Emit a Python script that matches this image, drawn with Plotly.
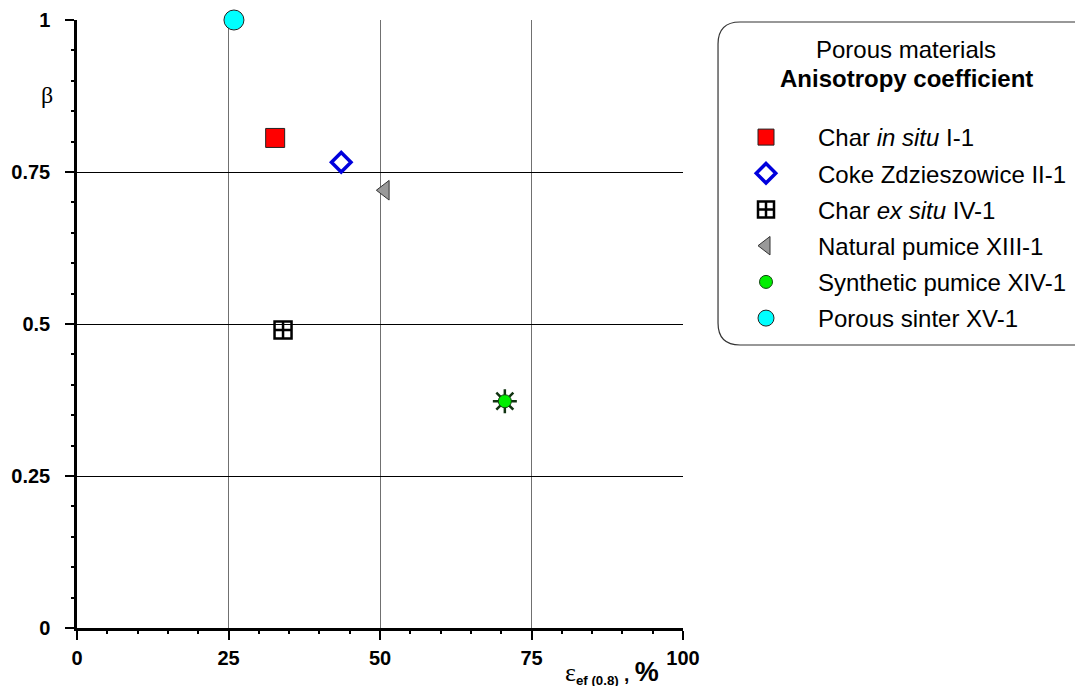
import plotly.graph_objects as go
import re

names = ["Char <i>in situ</i> I-1", "Coke Zdzieszowice II-1", "Char <i>ex situ</i> IV-1",
         "Natural pumice XIII-1", "Synthetic pumice XIV-1", "Porous sinter XV-1"]
eps = [32.7, 43.6, 34.0, 50.8, 70.6, 25.9]
beta = [0.806, 0.766, 0.490, 0.720, 0.373, 1.0]

x_ticks = [0, 25, 50, 75, 100]
y_ticks = [0, 0.25, 0.5, 0.75, 1]
y_tick_labels = ["0", "0.25", "0.5", "0.75", "1"]

styles = [
    dict(symbol="square", size=19, color="#ff0000", line=dict(color="#222222", width=1)),
    dict(symbol="diamond", size=15, color="white", line=dict(color="#0000dd", width=3.5)),
    dict(symbol="square-cross-open", size=17, color="black", line=dict(color="black", width=2.5)),
    dict(symbol="triangle-left", size=17, color="#999999", line=dict(color="#333333", width=1)),
    dict(symbol="circle", size=13, color="#00ee00", line=dict(color="#114411", width=1)),
    dict(symbol="circle", size=20, color="#00ffff", line=dict(color="#222222", width=1)),
]

# page offset (body margin) and plot area in screenshot pixels
OFF = 8
PL, PR, PT, PB = 77, 683, 20, 628
W, H = 1083, 686


def px(p):
    return (p - PL) / (PR - PL)


def py(p):
    return (PB - p) / (PB - PT)


fig = go.Figure()
for i in range(len(names)):
    if i == 4:
        fig.add_trace(go.Scatter(x=[eps[i]], y=[beta[i]], mode="markers", showlegend=False,
                                 marker=dict(symbol="asterisk-open", size=20, color="#113311",
                                             line=dict(color="#113311", width=2.5)),
                                 cliponaxis=False, hoverinfo="skip"))
    fig.add_trace(go.Scatter(x=[eps[i]], y=[beta[i]], mode="markers", name=names[i],
                             legendgroup=f"g{i}", marker=styles[i], cliponaxis=False))

tickfont = dict(size=20, family="Liberation Sans, Arial, sans-serif", color="black")
fig.update_layout(
    width=W, height=H,
    margin=dict(l=PL - OFF, r=W - (PR - OFF), t=PT - OFF, b=H - (PB - OFF), autoexpand=False),
    plot_bgcolor="white", paper_bgcolor="white",
    font=dict(family="Liberation Sans, Arial, sans-serif", color="black"),
    legend=dict(
        x=px(714), y=py(115), xanchor="left", yanchor="top",
        font=dict(size=24, color="black"),
        tracegroupgap=2, itemwidth=94, bgcolor="rgba(0,0,0,0)", borderwidth=0,
    ),
    xaxis=dict(range=[0, 100], tickvals=x_ticks, ticktext=[f"<b>{v}</b>" for v in x_ticks],
               showgrid=True, gridcolor="#707070", gridwidth=1.2, zeroline=False,
               showline=True, linecolor="black", linewidth=2.5, automargin=False,
               ticks="outside", ticklen=9, tickwidth=2, tickcolor="black",
               tickfont=tickfont, ticklabelstandoff=1,
               minor=dict(dtick=5, ticks="outside", ticklen=3, tickwidth=2, tickcolor="black", showgrid=False)),
    yaxis=dict(range=[0, 1], tickvals=y_ticks, ticktext=[f"<b>{t}</b>" for t in y_tick_labels],
               showgrid=True, gridcolor="black", gridwidth=1.2, zeroline=False,
               showline=True, linecolor="black", linewidth=2.5, automargin=False,
               ticks="outside", ticklen=9, tickwidth=2, tickcolor="black",
               tickfont=tickfont, ticklabelstandoff=11,
               minor=dict(dtick=0.05, ticks="outside", ticklen=3, tickwidth=2, tickcolor="black", showgrid=False)),
)

# rounded legend box
x0, x1, y0, y1, r = 718, 1110, 22, 345, 22
path = (f"M {x0+r},{y0} L {x1-r},{y0} Q {x1},{y0} {x1},{y0+r} L {x1},{y1-r} Q {x1},{y1} {x1-r},{y1} "
        f"L {x0+r},{y1} Q {x0},{y1} {x0},{y1-r} L {x0},{y0+r} Q {x0},{y0} {x0+r},{y0} Z")


def conv(m):
    return f"{px(float(m.group(1))):.4f},{py(float(m.group(2))):.4f}"


fig.add_shape(type="path", path=re.sub(r"([\d.]+),([\d.]+)", conv, path), xref="paper", yref="paper",
              line=dict(color="#333333", width=1.2), layer="below")

ann = dict(xref="paper", yref="paper", showarrow=False, xanchor="center", yanchor="middle")
fig.add_annotation(x=px(906), y=py(50), text="Porous materials", font=dict(size=24), **ann)
fig.add_annotation(x=px(906), y=py(79), text="<b>Anisotropy coefficient</b>", font=dict(size=24), **ann)

fig.add_annotation(x=px(47), y=py(95), text="β",
                   font=dict(family="Liberation Serif, Times New Roman", size=24), **ann)
fig.add_annotation(x=px(612), y=py(673),
                   text="<span style='font-family:Liberation Serif;font-size:26px'>ε</span>"
                        "<sub><b>ef (0.8)</b></sub><b> , </b><span style='font-size:27px'><b>%</b></span>",
                   font=dict(family="Liberation Sans, Arial", size=19), **ann)

fig.write_html("out.html")
